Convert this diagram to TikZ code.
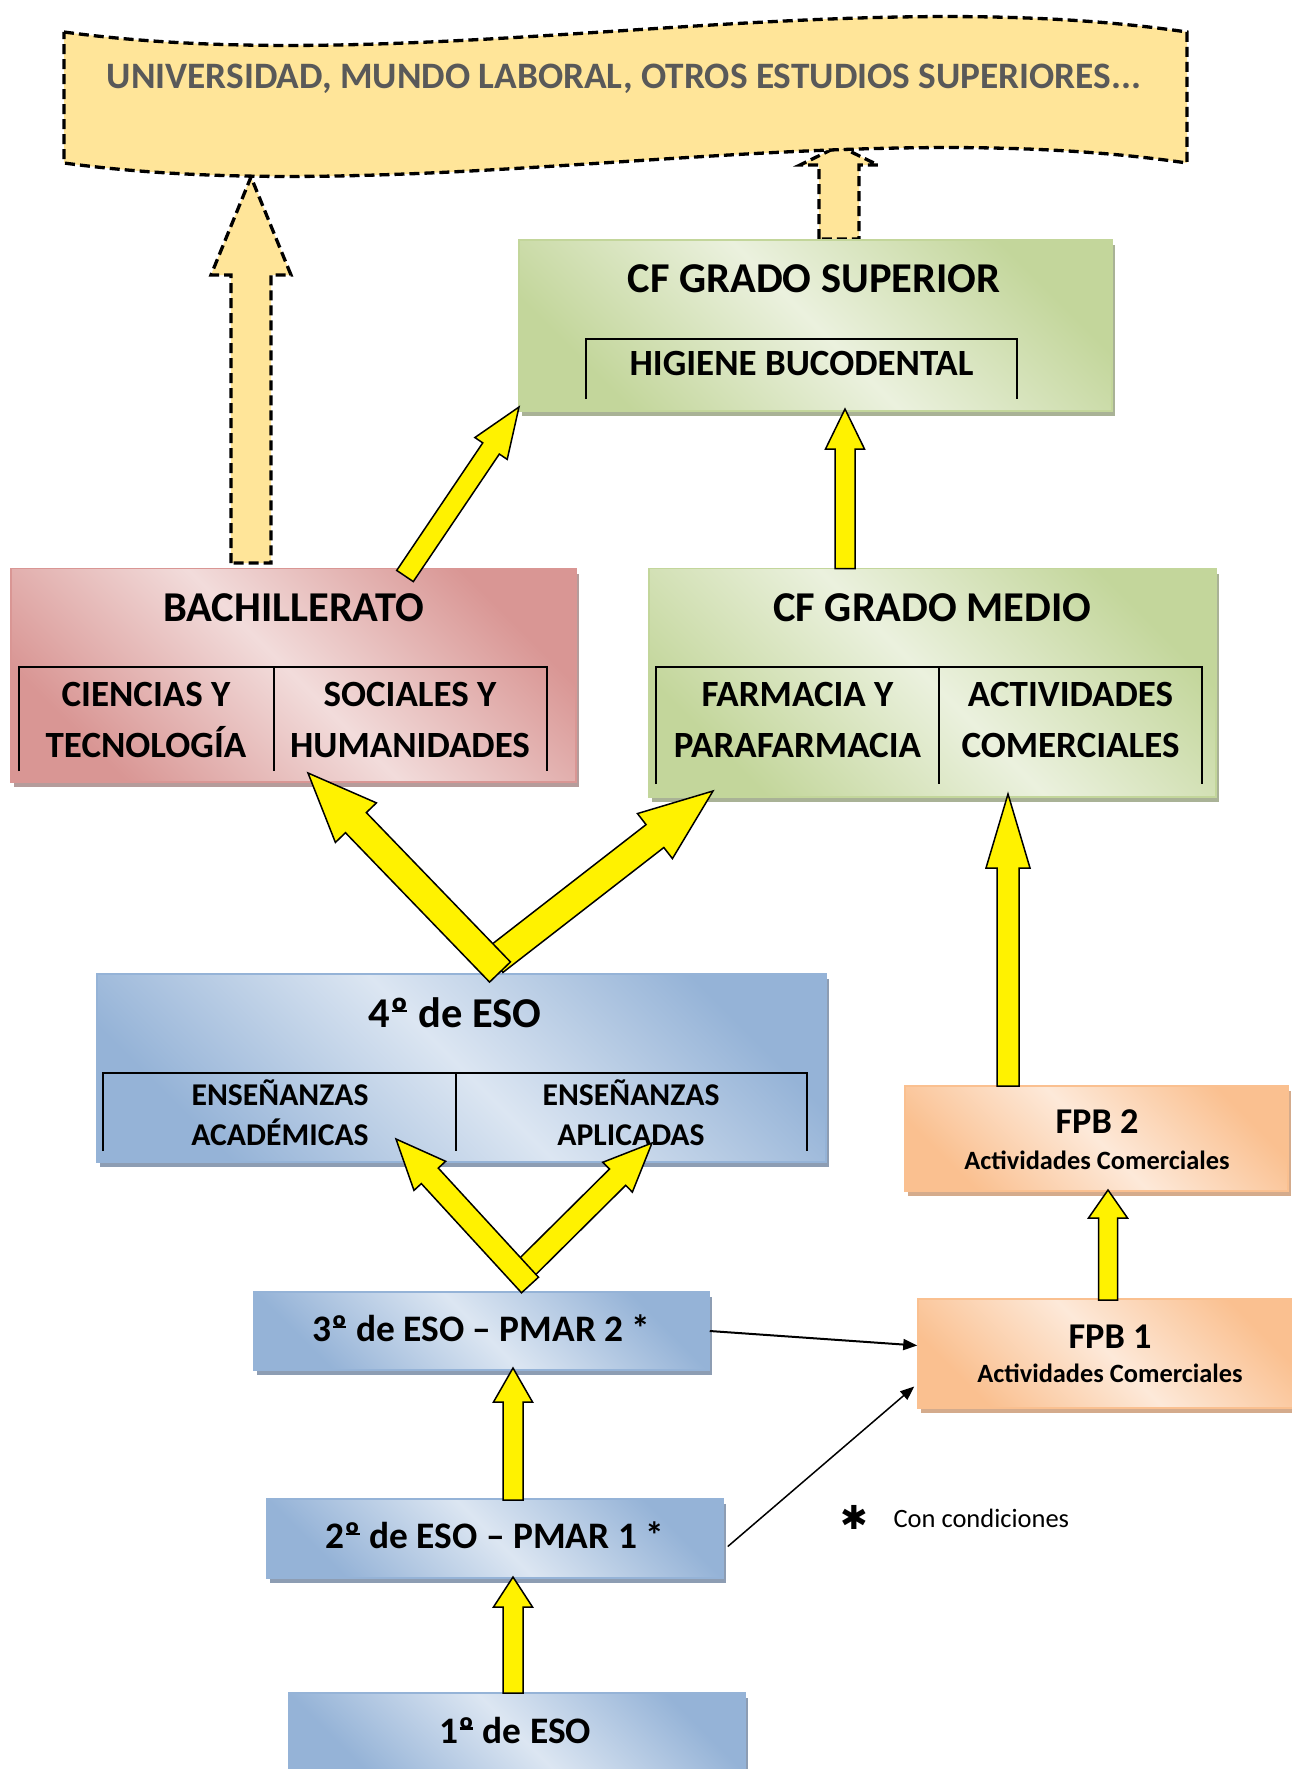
\documentclass[tikz,border=0pt]{standalone}
\usepackage{fontspec}
\setmainfont{Carlito}
\newfontfamily\dejavu{DejaVu Sans}
\usetikzlibrary{calc,arrows.meta,shadows}
\definecolor{banner}{HTML}{FFE599}
\definecolor{bannertext}{HTML}{595959}
\definecolor{azulC}{HTML}{DCE6F2}
\definecolor{azulO}{HTML}{95B3D7}
\definecolor{azulS}{HTML}{8D9DB3}
\definecolor{rojoC}{HTML}{F2DCDB}
\definecolor{rojoO}{HTML}{D99694}
\definecolor{rojoS}{HTML}{B59C9B}
\definecolor{verdeC}{HTML}{EBF1DE}
\definecolor{verdeO}{HTML}{C3D69B}
\definecolor{verdeS}{HTML}{A9B296}
\definecolor{naranjaC}{HTML}{FDE9D9}
\definecolor{naranjaO}{HTML}{FAC090}
\definecolor{naranjaS}{HTML}{D4AB8C}
\newcommand{\ordo}{\setbox0\hbox{º}\rlap{\hspace{0.04em}\rule[0.36em]{\dimexpr\wd0-0.08em\relax}{0.06em}}\box0}
\newcommand{\flecha}[6]{%
  \coordinate (hb) at ($(#3)!#6!(#2)$);
  \draw[#1] ($(#2)!#4!90:(#3)$) -- ($(hb)!#4!90:(#3)$) -- ($(hb)!#5!90:(#3)$) -- (#3)
    -- ($(hb)!#5!-90:(#3)$) -- ($(hb)!#4!-90:(#3)$) -- ($(#2)!#4!-90:(#3)$) -- cycle;}
\begin{document}
\begin{tikzpicture}[x=1pt,y=-1pt,
  caja/.style n args={3}{draw=#2, line width=1.5pt, top color=#2, bottom color=#2, middle color=#1,
    shading angle=-45, drop shadow={shadow xshift=3pt, shadow yshift=-5pt, fill=#3, opacity=1}},
  azul/.style={caja={azulC}{azulO}{azulS}},
  rojo/.style={caja={rojoC}{rojoO}{rojoS}},
  verde/.style={caja={verdeC}{verdeO}{verdeS}},
  naranja/.style={caja={naranjaC}{naranjaO}{naranjaS}},
  titulo/.style={font=\bfseries\fontsize{42.5}{51}\selectfont},
  sub/.style={font=\bfseries\fontsize{37}{51}\selectfont, align=center},
  subeso/.style={font=\bfseries\fontsize{31.7}{40}\selectfont, align=center},
  eso/.style={font=\bfseries\fontsize{37.4}{45}\selectfont},
  fpb/.style={font=\bfseries\fontsize{36.3}{44}\selectfont},
  fpbsub/.style={font=\bfseries\fontsize{26.4}{32}\selectfont},
  amarilla/.style={fill=yellow, draw=black, line width=1.5pt},
  discont/.style={fill=banner, draw=black, line width=3.3pt, dash pattern=on 10pt off 5pt},
  tabla/.style={line width=2pt},
  fina/.style={-{Triangle[length=14pt,width=11pt]}, line width=2pt}]
\useasboundingbox (0,0) rectangle (1292,1769);

\coordinate (bachUp) at (251,563);
\coordinate (uniL) at (251,177);
\coordinate (cfgsUp) at (839,239);
\coordinate (uniR) at (839,146);
\flecha{discont}{bachUp}{uniL}{20pt}{40pt}{98pt}
\flecha{discont}{cfgsUp}{uniR}{20pt}{39pt}{19pt}
\draw[discont] (64,32) .. controls (420,80) and (830,-20) .. (1187,32) -- (1187,163)
  .. controls (830,111) and (420,211) .. (64,163) -- cycle;
\node[font=\bfseries\fontsize{37.3}{44}\selectfont, text=bannertext] (uni) at (624,79)
  {UNIVERSIDAD, MUNDO LABORAL, OTROS ESTUDIOS SUPERIORES...};

\node[verde, minimum width=593pt, minimum height=171pt] (cfgs) at (815.5,325.5) {};
\node[rojo, minimum width=565pt, minimum height=213.5pt] (bach) at (293.5,675.25) {};
\node[verde, minimum width=567pt, minimum height=228.5pt] (cfgm) at (932.5,682.75) {};
\node[azul, minimum width=729pt, minimum height=188pt] (eso4) at (461.5,1068) {};
\node[naranja, minimum width=383pt, minimum height=105pt] (fpb2) at (1096.5,1138.5) {};
\node[naranja, minimum width=383pt, minimum height=109pt] (fpb1) at (1109.5,1353.5) {};
\node[azul, minimum width=455pt, minimum height=78pt] (eso3) at (481.5,1331) {};
\node[azul, minimum width=456pt, minimum height=79pt] (eso2) at (495,1538.5) {};
\node[azul, minimum width=456pt, minimum height=80pt] (eso1) at (517,1733) {};

\draw[tabla] (586,399) |- (1017,339) -- (1017,399);
\draw[tabla] (19,771) |- (547,667) -- (547,771);
\draw[tabla] (274,667) -- (274,771);
\draw[tabla] (656,784) |- (1202,667) -- (1202,784);
\draw[tabla] (939,667) -- (939,784);
\draw[tabla] (103,1151) |- (807,1073) -- (807,1151);
\draw[tabla] (456,1073) -- (456,1151);

\node[titulo] (cfgsT) at (814,279) {CF GRADO SUPERIOR};
\node[sub] (cfgsH) at (801.5,364) {HIGIENE BUCODENTAL};
\node[titulo] (bachT) at (293.5,608) {BACHILLERATO};
\node[sub] (bachC) at (146,719.5) {CIENCIAS Y\\TECNOLOGÍA};
\node[sub] (bachS) at (410,719.5) {SOCIALES Y\\HUMANIDADES};
\node[titulo] (cfgmT) at (932.5,608) {CF GRADO MEDIO};
\node[sub] (cfgmF) at (797.5,719.5) {FARMACIA Y\\PARAFARMACIA};
\node[sub] (cfgmA) at (1070.5,719.5) {ACTIVIDADES\\COMERCIALES};
\node[titulo] (eso4T) at (455,1013) {4\ordo{} de ESO};
\node[subeso] (eso4A) at (280,1113) {ENSEÑANZAS\\ACADÉMICAS};
\node[subeso] (eso4B) at (631,1113) {ENSEÑANZAS\\APLICADAS};
\node[fpb] (fpb2T) at (1097,1122) {FPB 2};
\node[fpbsub] (fpb2S) at (1097,1160) {Actividades Comerciales};
\node[fpb] (fpb1T) at (1110,1337) {FPB 1};
\node[fpbsub] (fpb1S) at (1110,1373) {Actividades Comerciales};
\node[eso] (eso3T) at (481.5,1328) {3\ordo{} de ESO – PMAR 2 *};
\node[eso] (eso2T) at (495,1535) {2\ordo{} de ESO – PMAR 1 *};
\node[eso] (eso1T) at (515,1730) {1\ordo{} de ESO};
\node[font=\dejavu\fontsize{33}{36}\selectfont] (ast) at (854,1517) {✱};
\node[anchor=west, font=\fontsize{26.5}{32}\selectfont] (cond) at (890,1518) {Con condiciones};

\coordinate (bachO) at (405,576);
\coordinate (cfgsA) at (519,407);
\coordinate (cfgmO) at (845,568.5);
\coordinate (cfgsB) at (845,409);
\coordinate (fpb2O) at (1008,1086);
\coordinate (cfgmA) at (1008,794);
\coordinate (eso4R) at (494,961);
\coordinate (cfgmB) at (713,791);
\coordinate (eso4L) at (500,972);
\coordinate (bachA) at (308,773);
\coordinate (eso3R) at (518,1276);
\coordinate (eso4B) at (652,1143);
\coordinate (eso3L) at (530,1285);
\coordinate (eso4A) at (396,1139);
\coordinate (fpb1O) at (1108,1300);
\coordinate (fpb2A) at (1108,1190);
\coordinate (eso2O) at (513,1500);
\coordinate (eso3A) at (513,1368);
\coordinate (eso1O) at (513,1693);
\coordinate (eso2A) at (513,1577);
\flecha{amarilla}{bachO}{cfgsA}{10pt}{19.5pt}{50pt}
\flecha{amarilla}{cfgmO}{cfgsB}{10pt}{19.5pt}{40pt}
\flecha{amarilla}{fpb2O}{cfgmA}{11pt}{22pt}{74pt}
\flecha{amarilla}{eso4R}{cfgmB}{14.5pt}{28.5pt}{73.5pt}
\flecha{amarilla}{eso4L}{bachA}{14.5pt}{28.5pt}{69pt}
\flecha{amarilla}{eso3R}{eso4B}{11.5pt}{21pt}{48.5pt}
\flecha{amarilla}{eso3L}{eso4A}{11.5pt}{21.5pt}{50pt}
\flecha{amarilla}{fpb1O}{fpb2A}{9.5pt}{19.5pt}{28pt}
\flecha{amarilla}{eso2O}{eso3A}{10pt}{19.5pt}{34pt}
\flecha{amarilla}{eso1O}{eso2A}{10pt}{19.5pt}{30pt}

\draw[fina] (eso3.east) -- ([yshift=8pt]fpb1.west);
\draw[fina, line width=1.5pt] ([xshift=4pt,yshift=-8pt]eso2.east) -- ([xshift=-3pt,yshift=-33pt]fpb1.west);
\end{tikzpicture}
\end{document}
